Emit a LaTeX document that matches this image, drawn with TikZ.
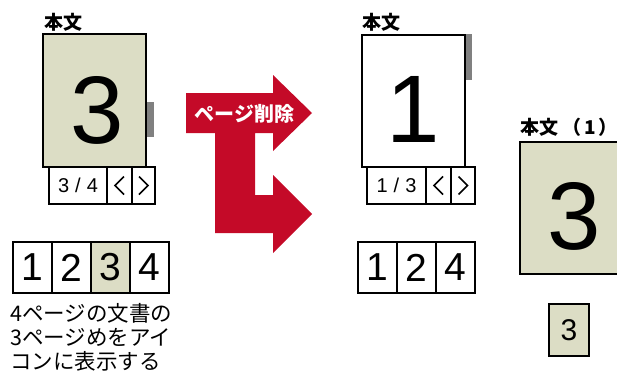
\documentclass[tikz,border=0pt]{standalone}
\usepackage{fontspec}
\setmainfont{Liberation Sans}
\newfontfamily\jp{Noto Sans CJK JP}
\usetikzlibrary{positioning,calc}

\definecolor{pagebg}{RGB}{220,221,197}
\definecolor{delred}{RGB}{196,10,40}
\definecolor{bargray}{RGB}{128,128,128}

\begin{document}
\begin{tikzpicture}[
        x=1pt, y=-1pt,
        page/.style={draw, line width=2pt, fill=pagebg, minimum width=103pt, minimum height=132pt, inner sep=0pt, outer sep=0pt},
        bignum/.style={inner sep=0pt, font=\fontsize{96}{96}\selectfont},
        navcell/.style={draw, line width=2pt, fill=white, minimum height=37pt, inner sep=0pt, outer sep=0pt, font=\fontsize{20}{20}\selectfont},
        cell/.style={draw, line width=2pt, fill=white, minimum width=39pt, minimum height=51pt, inner sep=0pt, outer sep=0pt, font=\fontsize{39}{39}\selectfont},
        title/.style={inner sep=0pt, font=\jp\bfseries\fontsize{19}{19}\selectfont},
        chev/.style={draw, line width=1.6pt},
        bar/.style={fill=bargray}
    ]
        \useasboundingbox (0,0) rectangle (617,370);
        \clip (0,0) rectangle (617,370);

        % Before: page 3 of 4
        \node (ltitle) [title, anchor=base west] at (44,29) {本文};
        \node (lpage) [page, minimum height=133pt] at (94.5,100.5) {};
        \node (lnum) [bignum] at ([shift={(2.5,9.5)}]lpage.center) {3};
        \fill [bar] (147,102) rectangle (154,137);
        \node (lnav1) [navcell, minimum width=58pt, anchor=north west] at ([xshift=6pt]lpage.south west) {3\hspace{6pt}/\hspace{6pt}4};
        \node (lnav2) [navcell, minimum width=25pt, right=0pt of lnav1] {};
        \node (lnav3) [navcell, minimum width=23pt, right=0pt of lnav2] {};
        \draw [chev] ([shift={(4.5,-9)}]lnav2.center) -- ([shift={(-4.5,0)}]lnav2.center) -- ([shift={(4.5,9)}]lnav2.center);
        \draw [chev] ([shift={(-4.5,-9)}]lnav3.center) -- ([shift={(4.5,0)}]lnav3.center) -- ([shift={(-4.5,9)}]lnav3.center);

        % Page strip 1-2-3-4
        \node (ls1) [cell, anchor=north west] at (13,242) {1};
        \node (ls2) [cell, right=0pt of ls1] {2};
        \node (ls3) [cell, fill=pagebg, right=0pt of ls2] {3};
        \node (ls4) [cell, right=0pt of ls3] {4};
        \node (note) [inner sep=0pt, anchor=base west, align=left, font=\jp\fontsize{21.5}{24}\selectfont] at (10,369)
            {4ページの文書の\\3ページめをアイ\\コンに表示する};

        % Delete arrow
        \fill [delred] (186,93) -- (273,93) -- (273,75) -- (312,113) -- (273,151) -- (273,133)
            -- (255,133) -- (255,195) -- (273,195) -- (273,175) -- (312,214) -- (273,253)
            -- (273,233) -- (215,233) -- (215,133) -- (186,133) -- cycle;
        \node (del) [inner sep=0pt, text=white, font=\jp\bfseries\fontsize{20}{20}\selectfont] at (244.5,114) {ページ削除};

        % After: page 1 of 3
        \node (mtitle) [title, anchor=base west] at (362,29) {本文};
        \node (mpage) [page, fill=white] at (413.5,101) {};
        \node (mnum) [bignum] at ([shift={(0,8)}]mpage.center) {1};
        \fill [bar] (466,34) rectangle (472,80);
        \node (mnav1) [navcell, minimum width=59pt, anchor=north west] at ([xshift=5pt]mpage.south west) {1\hspace{6pt}/\hspace{6pt}3};
        \node (mnav2) [navcell, minimum width=25pt, right=0pt of mnav1] {};
        \node (mnav3) [navcell, minimum width=24pt, right=0pt of mnav2] {};
        \draw [chev] ([shift={(4.5,-9)}]mnav2.center) -- ([shift={(-4.5,0)}]mnav2.center) -- ([shift={(4.5,9)}]mnav2.center);
        \draw [chev] ([shift={(-4.5,-9)}]mnav3.center) -- ([shift={(4.5,0)}]mnav3.center) -- ([shift={(-4.5,9)}]mnav3.center);

        % Page strip 1-2-4
        \node (ms1) [cell, anchor=north west] at (358,242) {1};
        \node (ms2) [cell, right=0pt of ms1] {2};
        \node (ms4) [cell, right=0pt of ms2] {4};

        % Deleted page 3 as its own document
        \node (rtitle) [title, anchor=base west] at (520,134) {本文\hspace{4pt}（\hspace{3pt}1\hspace{3pt}）};
        \node (rpage) [page] at (571.5,208) {};
        \node (rnum) [bignum] at ([shift={(2.5,8)}]rpage.center) {3};
        \node (rs1) [cell, fill=pagebg, minimum width=40pt, minimum height=52pt, font=\fontsize{30}{30}\selectfont] at (569,330) {3};

    \end{tikzpicture}
\end{document}
